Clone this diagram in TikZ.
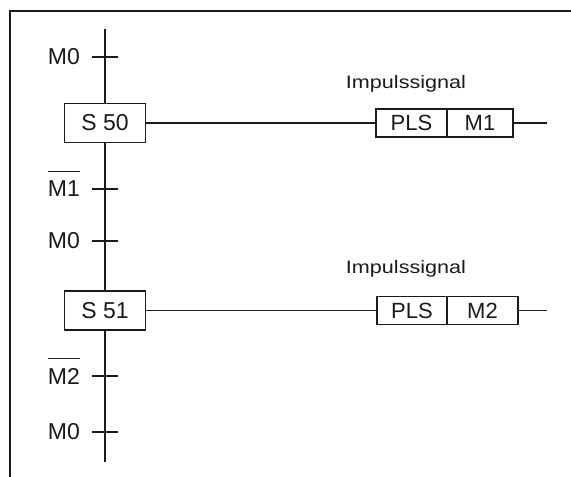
\documentclass[tikz,border=0pt]{standalone}
\usepackage{fontspec}
\setmainfont{Liberation Sans}
\usetikzlibrary{positioning}
\definecolor{ink}{HTML}{1A1A1A}
\newlength\sigw
% negated signal: bar well above the letters
\newcommand\negsig[1]{\settowidth\sigw{#1}\makebox[0pt][l]{\raisebox{25pt}[0pt][0pt]{\rule{\sigw}{1.3pt}}}#1}
\tikzset{
  frame/.style={draw=ink,line width=2pt},
  wire/.style={draw=ink,line width=1.1pt},
  sbox/.style={draw=ink,line width=1.1pt,minimum width=81pt,minimum height=39pt,inner sep=0pt,font=\fontsize{23}{25}\selectfont,text=ink},
  cell/.style={draw=ink,line width=1.1pt,minimum height=28pt,inner sep=0pt,outer sep=0pt,font=\fontsize{22}{24}\selectfont,text=ink},
  trans/.style={draw=ink,line width=1.1pt,minimum width=26pt,minimum height=0pt,inner sep=0pt,outer sep=0pt},
  cond/.style={font=\fontsize{23}{25}\selectfont,inner sep=0pt,text=ink,xshift=-12pt},
  note/.style={font=\fontsize{18}{20}\selectfont,inner sep=0pt,text=ink}}

\begin{document}
\begin{tikzpicture}[x=1pt,y=-1pt]
\useasboundingbox (0,0) rectangle (571,477);
\draw[frame] (10,477) |- (571,11);

\coordinate (top) at (105,29);
\node[trans,label={[cond]left:M0}] (m0a) at (105,57) {};
\node[sbox] (s50) at (105,123) {S 50};
\node[trans,label={[cond]left:\negsig{M1}}] (m1n) at (105,189) {};
\node[trans,label={[cond]left:M0}] (m0b) at (105,241) {};
\node[sbox] (s51) at (105,310.5) {S 51};
\node[trans,label={[cond]left:\negsig{M2}}] (m2n) at (105,376) {};
\node[trans,label={[cond]left:M0}] (m0c) at (105,432) {};
\coordinate (bot) at (105,462);

\draw[wire] (top) -- (s50);
\draw[wire] (s50) -- (s51);
\draw[wire] (s51) -- (bot);

% first pulse rung
\node[note,anchor=base] (imp1) at (406,88) {\scalebox{1.2}[1]{Impulssignal}};
\node[cell,minimum width=71pt] (pls1) at (411.5,123) {PLS};
\node[cell,minimum width=66pt,right=0pt of pls1] (m1) {M1};
\coordinate (o1) at (547,123);
\draw[wire] (s50) -- (pls1);
\draw[wire] (m1) -- (o1);

% second pulse rung
\node[note,anchor=base] (imp2) at (406,273) {\scalebox{1.2}[1]{Impulssignal}};
\node[cell,minimum width=70pt] (pls2) at (412,310.5) {PLS};
\node[cell,minimum width=71pt,right=0pt of pls2] (m2) {M2};
\coordinate (o2) at (547,310.5);
\draw[wire] (s51) -- (pls2);
\draw[wire] (m2) -- (o2);
\end{tikzpicture}
\end{document}
